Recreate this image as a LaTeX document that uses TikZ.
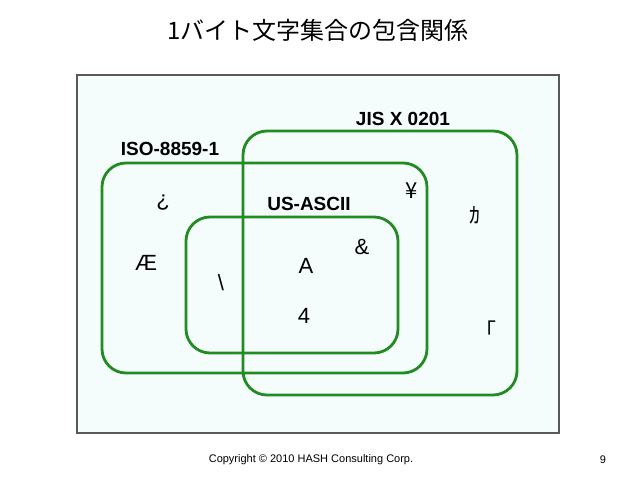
\documentclass[tikz,border=0pt]{standalone}
\usepackage{fontspec}
\setmainfont{Liberation Sans}
\newfontfamily\jpfont{Noto Sans CJK JP}
\usetikzlibrary{positioning}
\definecolor{SetGreen}{RGB}{34,139,34}
\definecolor{PanelFill}{RGB}{244,252,252}
\tikzset{
  setbox/.style={draw=SetGreen, line width=2.8pt, rounded corners=24pt},
  setlabel/.style={font=\bfseries\fontsize{19}{20}\selectfont, inner sep=0pt},
  charlabel/.style={font=\fontsize{22}{24}\selectfont, inner sep=0pt},
  kanalabel/.style={font=\jpfont\fontsize{22}{24}\selectfont, inner sep=0pt}
}
\begin{document}
\begin{tikzpicture}[x=1pt,y=-1pt]
\useasboundingbox (0,0) rectangle (638,479);
\fill[white] (0,0) rectangle (638,479);
\node[font=\jpfont\fontsize{24}{26}\selectfont, inner sep=0pt] (Title) at (318,30) {1バイト文字集合の包含関係};
\draw[draw=black!65, fill=PanelFill, line width=1.2pt] (77,75) rectangle (559,433);
\draw[setbox] (102,163) rectangle (427,373);
\draw[setbox] (243,131) rectangle (517,395);
\draw[setbox] (186,217) rectangle (398,353);
\node[setlabel] (JisLabel) at (403,119) {JIS X 0201};
\node[setlabel] (IsoLabel) at (170,149) {ISO-8859-1};
\node[setlabel] (AsciiLabel) at (309,204) {US-ASCII};
\node[charlabel] (InvQuestion) at (163,203) {¿};
\node[charlabel] (AE) at (146,263) {Æ};
\node[charlabel] (Backslash) at (221,283) {\textbackslash};
\node[charlabel] (LetterA) at (306,266) {A};
\node[charlabel] (DigitFour) at (304,316) {4};
\node[charlabel] (Ampersand) at (362,247) {\&};
\node[kanalabel] (Yen) at (412,191) {¥};
\node[kanalabel] (KanaKa) at (475,215) {ｶ};
\node[kanalabel] (Bracket) at (491,330) {｢};
\node[font=\fontsize{11}{12}\selectfont, inner sep=0pt] (Copyright) at (311,460) {Copyright \textcopyright\ 2010 HASH Consulting Corp.};
\node[font=\fontsize{11}{12}\selectfont, inner sep=0pt] (PageNo) at (603,460) {9};
\end{tikzpicture}
\end{document}
